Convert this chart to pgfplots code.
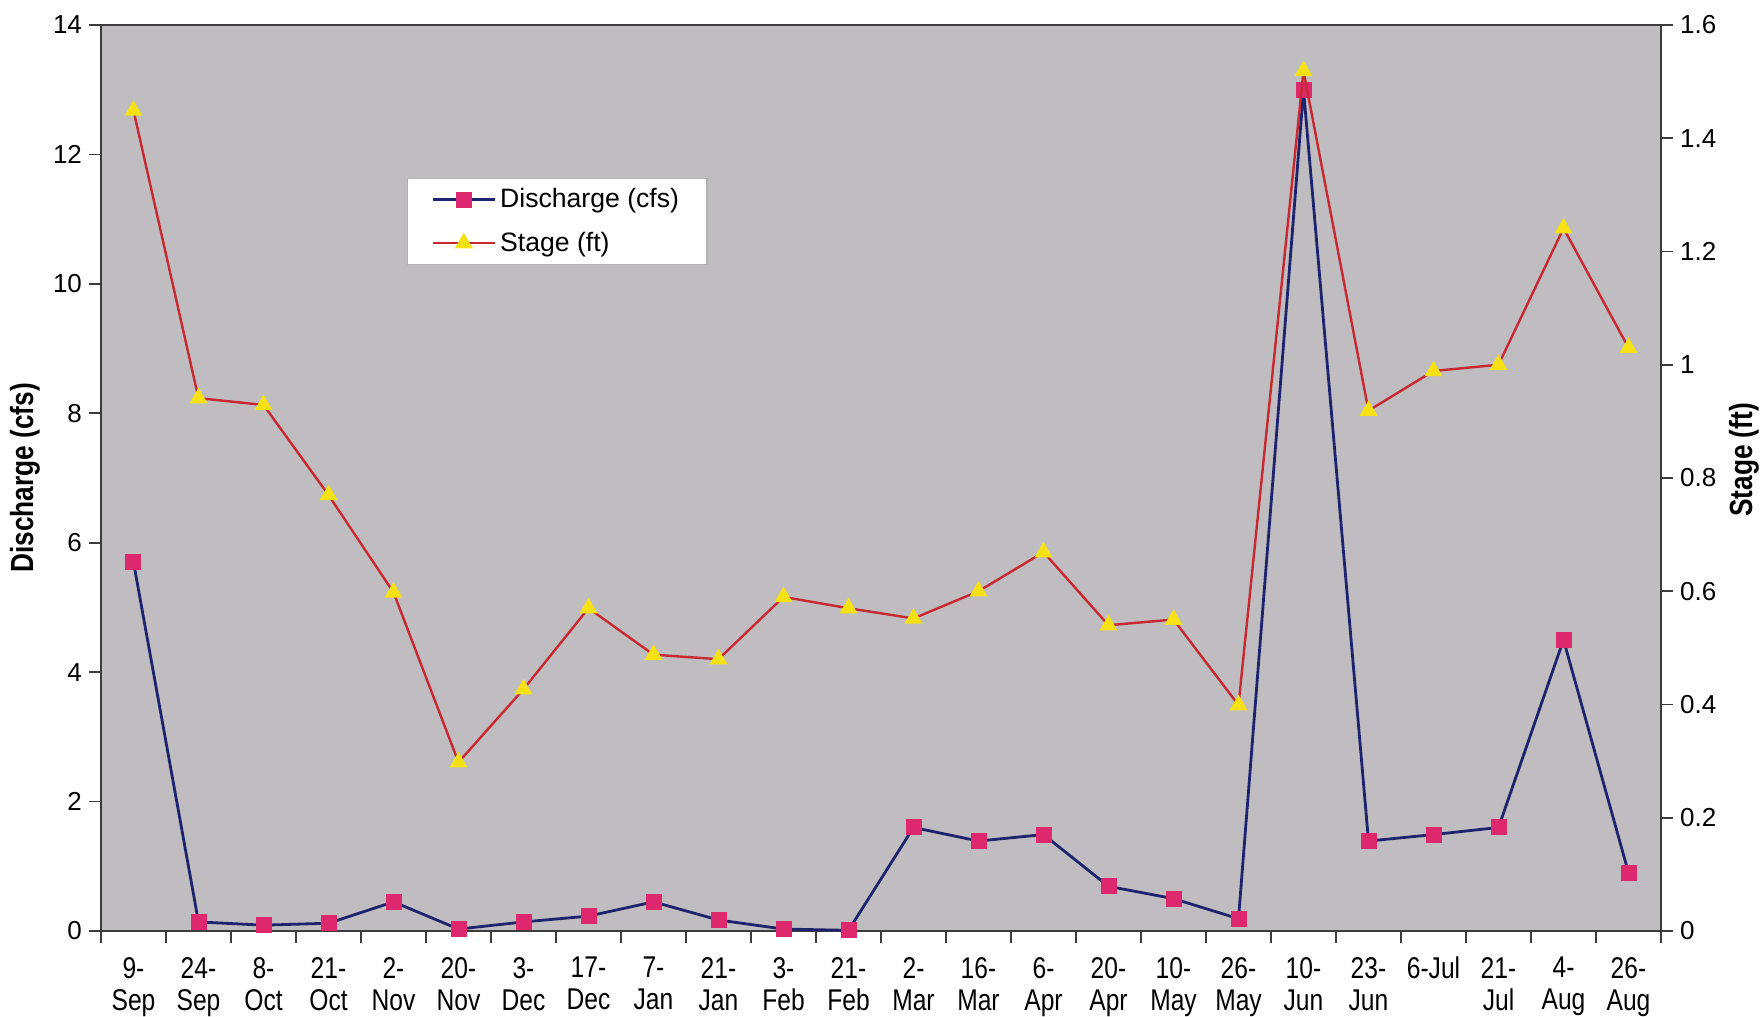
\documentclass[border=0pt]{standalone}
\usepackage{pgfplots}
\usepackage{pgfplotstable}
\pgfplotsset{compat=1.18}
\usepackage{fontspec}
\setmainfont{Liberation Sans}
\newfontfamily\narrowfont[FakeStretch=0.82]{Liberation Sans}

\definecolor{plotbg}{RGB}{192,189,192}
\definecolor{dischargeline}{RGB}{30,35,110}
\definecolor{dischargemark}{RGB}{222,40,110}
\definecolor{stageline}{RGB}{200,40,50}
\definecolor{stagemark}{RGB}{245,225,20}
\definecolor{axisgray}{RGB}{60,60,60}

% Sampling date index, discharge (cfs), stage (ft)
\pgfplotstableread{
idx discharge stage
0  5.70 1.449
1  0.14 0.941
2  0.09 0.929
3  0.12 0.770
4  0.45 0.598
5  0.03 0.298
6  0.14 0.427
7  0.23 0.570
8  0.45 0.488
9  0.17 0.480
10 0.03 0.590
11 0.01 0.570
12 1.60 0.552
13 1.39 0.600
14 1.49 0.669
15 0.69 0.540
16 0.50 0.550
17 0.19 0.399
18 13.0 1.519
19 1.39 0.919
20 1.49 0.989
21 1.60 1.000
22 4.50 1.241
23 0.90 1.030
}\datatable

\pgfplotsset{
  common/.style={
    scale only axis, width=780pt, height=453pt,
    at={(0pt,0pt)}, anchor=south west,
    xmin=-0.5, xmax=23.5,
    tick align=outside,
    major tick length=6pt, minor tick length=6pt,
    /pgf/number format/assume math mode=true,
    yticklabel style={font=\fontsize{13}{15}\selectfont, text=black},
    tick style={axisgray, line width=0.8pt},
    axis line style={axisgray, line width=1pt},
  },
}

\begin{document}
\begin{tikzpicture}
\useasboundingbox (-50.5pt,-43pt) rectangle (830.5pt,465.5pt);

\begin{axis}[
  common,
  ymin=0, ymax=14, ytick={0,2,...,14},
  ytick pos=left,
  xtick pos=bottom,
  axis background/.style={fill=plotbg},
  xtick={0,...,23},
  major x tick style={draw=none},
  minor xtick={-0.5,0.5,...,23.5},
  xticklabels={{9-\\Sep},{24-\\Sep},{8-\\Oct},{21-\\Oct},{2-\\Nov},{20-\\Nov},
    {3-\\Dec},{17-\\Dec},{7-\\Jan},{21-\\Jan},{3-\\Feb},{21-\\Feb},
    {2-\\Mar},{16-\\Mar},{6-\\Apr},{20-\\Apr},{10-\\May},{26-\\May},
    {10-\\Jun},{23-\\Jun},{6-Jul},{21-\\Jul},{4-\\Aug},{26-\\Aug}},
  xticklabel style={font=\narrowfont\fontsize{15}{16}\selectfont, align=center,
    text=black, yshift=-3.5pt},
  ylabel={Discharge (cfs)},
  every axis y label/.style={at={(axis description cs:-0.0487,0.5)}, rotate=90,
    anchor=center, font=\narrowfont\bfseries\fontsize{16}{18}\selectfont},
]
\addplot[dischargeline, line width=1.4pt, mark=square*,
  mark size=3.3pt, mark options={fill=dischargemark, draw=dischargemark, solid}]
  table[x=idx, y=discharge] {\datatable};
\end{axis}

\begin{axis}[
  common,
  ymin=0, ymax=1.6, ytick={0,0.2,...,1.6},
  axis y line*=right, axis x line=none,
  ylabel={Stage (ft)},
  every axis y label/.style={at={(axis description cs:1.0532,0.52)}, rotate=90,
    anchor=center, font=\narrowfont\bfseries\fontsize{16}{18}\selectfont},
  legend style={at={(axis description cs:0.196,0.831)}, anchor=north west,
    fill=white, draw=black!30, line width=0.6pt,
    font=\fontsize{13.3}{15}\selectfont,
    row sep=6.5pt, inner xsep=12pt, inner ysep=3pt},
  legend cell align=left,
  legend image code/.code={
    \draw[#1] (0pt,0pt) -- (31pt,0pt);
    \draw[#1, mark repeat=1] plot coordinates {(15.5pt,0pt)};
  },
]
\addlegendimage{dischargeline, line width=1.4pt, mark=square*,
  mark size=3.3pt, mark options={fill=dischargemark, draw=dischargemark, solid}}
\addlegendentry{Discharge (cfs)}
\addplot[stageline, line width=1.2pt, mark=triangle*,
  mark size=4pt, mark options={fill=stagemark, draw=stagemark, solid}]
  table[x=idx, y=stage] {\datatable};
\addlegendentry{Stage (ft)}
\end{axis}
\end{tikzpicture}
\end{document}
